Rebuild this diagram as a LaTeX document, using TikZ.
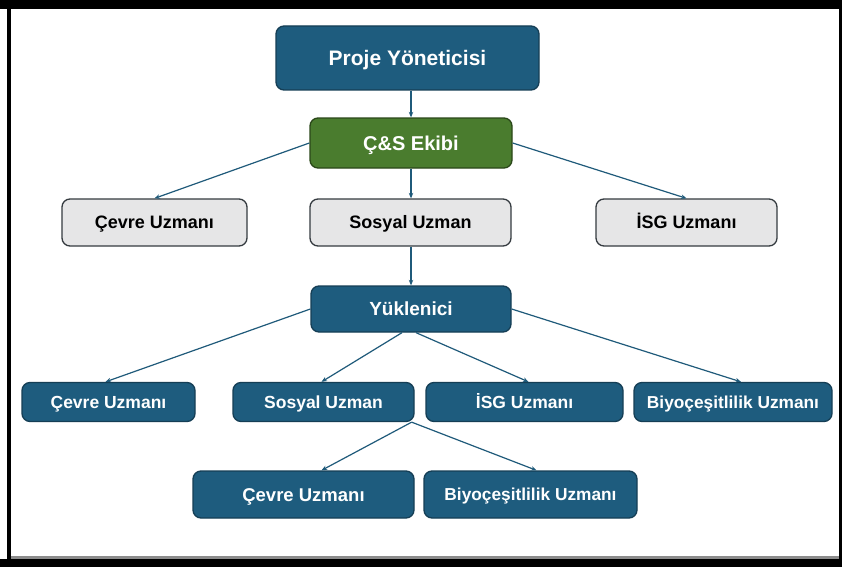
\documentclass[tikz,border=0pt]{standalone}
\usepackage{fontspec}
\setmainfont{Liberation Sans}
\usetikzlibrary{arrows.meta,calc}
\definecolor{nblue}{HTML}{1E5C7E}
\definecolor{nblueborder}{HTML}{153E55}
\definecolor{ngreen}{HTML}{4A7C2E}
\definecolor{ngreenborder}{HTML}{2A4719}
\definecolor{ngray}{HTML}{E6E6E7}
\definecolor{ngrayborder}{HTML}{353B40}
\definecolor{linec}{HTML}{1F5A7A}
\newcommand\myfs[1]{\fontsize{#1}{#1}\selectfont}
\begin{document}
\begin{tikzpicture}[x=1pt,y=-1pt,
  box/.style={draw, line width=1.3pt, rounded corners=8pt, inner sep=0pt, align=center},
  fsz/.style={font=\bfseries\myfs{#1}, text height=#1*0.72pt, text depth=0pt},
  bluebox/.style={box, fill=nblue, draw=nblueborder, text=white},
  greenbox/.style={box, fill=ngreen, draw=ngreenborder, text=white},
  graybox/.style={box, fill=ngray, draw=ngrayborder, text=black},
  conn/.style={draw=linec, line width=1.2pt, -{Stealth[length=5.5pt,width=4.5pt]}}]
\useasboundingbox (0,0) rectangle (842,567);
\fill[white] (0,0) rectangle (842,567);
% frame
\fill[black] (0,0) rectangle (842,9);
\fill[black] (7,0) rectangle (11,567);
\fill[black] (839,0) rectangle (842,567);
\fill[black!45] (11,556) rectangle (839,558.5);
\fill[black] (0,558.5) rectangle (842,567);

% level 0/1
\node[bluebox, minimum width=263pt, minimum height=64pt, fsz=21] (pm) at (407.5,58) {Proje Yöneticisi};
\node[greenbox, minimum width=202pt, minimum height=50pt, fsz=20] (cs) at (411,143) {Ç\&S Ekibi};

% level 2
\node[graybox, minimum width=185pt, minimum height=47pt, fsz=18] (c1) at (154.5,222.5) {Çevre Uzmanı};
\node[graybox, minimum width=201pt, minimum height=47pt, fsz=18] (s1) at (410.5,222.5) {Sosyal Uzman};
\node[graybox, minimum width=181pt, minimum height=47pt, fsz=18] (i1) at (686.5,222.5) {İSG Uzmanı};

% level 3
\node[bluebox, minimum width=200pt, minimum height=46pt, fsz=19] (yk) at (411,309) {Yüklenici};

% level 4
\node[bluebox, minimum width=173pt, minimum height=39pt, fsz=17.5] (c2) at (108.5,402) {Çevre Uzmanı};
\node[bluebox, minimum width=181pt, minimum height=39pt, fsz=17.5] (s2) at (323.5,402) {Sosyal Uzman};
\node[bluebox, minimum width=197pt, minimum height=39pt, fsz=17.5] (i2) at (524.5,402) {İSG Uzmanı};
\node[bluebox, minimum width=198pt, minimum height=39pt, fsz=17.3] (b2) at (733,402) {Biyoçeşitlilik Uzmanı};

% level 5
\node[bluebox, minimum width=221pt, minimum height=47pt, fsz=18.5] (c3) at (303.5,494.5) {Çevre Uzmanı};
\node[bluebox, minimum width=213pt, minimum height=47pt, fsz=17.3] (b3) at (530.5,494.5) {Biyoçeşitlilik Uzmanı};

% connectors
\draw[conn] (pm.south -| cs.north) -- (cs.north);
\draw[conn] (cs.west) -- (c1.north);
\draw[conn] (cs.south) -- (cs.south |- s1.north);
\draw[conn] (cs.east) -- (i1.north);
\draw[conn] (s1.south -| yk.north) -- (yk.north);
\draw[conn] (yk.west) -- ([xshift=-3pt]c2.north);
\draw[conn] ([xshift=-9pt]yk.south) -- ([xshift=-2pt]s2.north);
\draw[conn] ([xshift=5pt]yk.south) -- ([xshift=4pt]i2.north);
\draw[conn] (yk.east) -- ([xshift=8pt]b2.north);
\draw[conn] ([xshift=-3pt]s2.south east) -- ([xshift=18pt]c3.north);
\draw[conn] ([xshift=-3pt]s2.south east) -- ([xshift=6pt]b3.north);
\end{tikzpicture}
\end{document}
